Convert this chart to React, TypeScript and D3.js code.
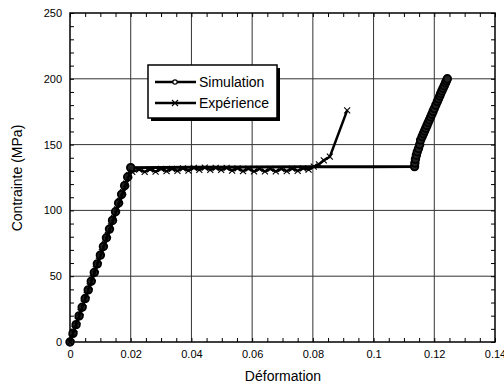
import React, { useEffect, useRef } from 'react';
import * as d3 from 'd3';

// Simulation : partie élastique, plateau, écrouissage
const simElasticStrain = [0, 0.001, 0.002, 0.003, 0.004, 0.005, 0.006, 0.007, 0.008, 0.009, 0.01, 0.011, 0.012, 0.013, 0.014, 0.015, 0.016, 0.017, 0.018, 0.019, 0.02];
const simElasticStress = [0, 6.6, 13.2, 19.8, 26.4, 33, 39.6, 46.2, 52.8, 59.4, 66, 72.6, 79.2, 85.8, 92.4, 99, 105.6, 112.2, 118.8, 125.4, 132.5];
const simPlateauStrain = [0.04, 0.06, 0.08, 0.1];
const simPlateauStress = [132.7, 132.9, 133.1, 133.2];
const simHardeningStrain = [0.1135, 0.1136, 0.1138, 0.1141, 0.1144, 0.1148, 0.1152, 0.1155, 0.116, 0.1164, 0.1168, 0.1172, 0.1176, 0.118, 0.1184, 0.1188, 0.1192, 0.1196, 0.12, 0.1205, 0.121, 0.1214, 0.1218, 0.1221, 0.1225, 0.1229, 0.1233, 0.1237, 0.124, 0.1243];
const simHardeningStress = [133.3, 136, 139, 142, 144.6, 147, 150, 153.5, 156.1, 158.3, 160.4, 162.5, 164.6, 166.8, 168.9, 171, 173.1, 175.2, 177.4, 180, 182.7, 184.8, 186.9, 188.8, 190.8, 192.8, 194.8, 196.9, 198.5, 200];

// Expérience
const expStrain = [0, 0.0005, 0.0015, 0.0025, 0.0035, 0.0045, 0.0055, 0.0065, 0.0075, 0.0085, 0.0095, 0.0105, 0.0115, 0.0125, 0.0135, 0.0145, 0.0155, 0.0165, 0.0175, 0.0185, 0.0195,
  0.0205, 0.0228, 0.0246, 0.0264, 0.0282, 0.03, 0.0318, 0.0336, 0.0354, 0.0372, 0.039, 0.0408, 0.0426, 0.0444, 0.0462, 0.048, 0.0498, 0.0516, 0.0534, 0.0552, 0.057, 0.0588,
  0.0606, 0.0624, 0.0642, 0.066, 0.0678, 0.0696, 0.0714, 0.0732, 0.075, 0.0768, 0.0786, 0.0803, 0.082, 0.0836, 0.0856, 0.0913];
const expStress = [0, 3.3, 9.8, 16.3, 22.8, 29.3, 35.8, 42.3, 48.8, 55.3, 61.8, 68.3, 74.8, 81.3, 87.8, 94.3, 100.8, 107.3, 113.8, 120.3, 126.8,
  129.3, 131, 129.3, 131.2, 129.5, 131.5, 129.8, 131.5, 130, 132, 130.3, 132.3, 130.8, 132.5, 130.8, 132.3, 130.8, 132.3, 130.3, 132, 129.8, 131.8,
  129.6, 131.6, 129.6, 131.6, 129.6, 131.5, 129.8, 131.7, 130, 132, 131, 133.2, 135, 138, 140.8, 176];

const seriesNames = ['Simulation', 'Expérience'];
const xTicks = [0, 0.02, 0.04, 0.06, 0.08, 0.1, 0.12, 0.14];
const yTicks = [0, 50, 100, 150, 200, 250];
const xLabel = 'Déformation';
const yLabel = 'Contrainte (MPa)';

const App = () => {
  const ref = useRef<SVGSVGElement>(null);
  const width = 504;
  const height = 387;

  useEffect(() => {
    const svg = d3.select(ref.current);
    svg.selectAll('*').remove();
    const font = 'Liberation Sans, Arial, sans-serif';

    const x = d3.scaleLinear().domain([0, 0.14]).range([70, 495]);
    const y = d3.scaleLinear().domain([0, 250]).range([342, 13]);

    const xMinor = d3.range(0, 0.1401, 0.005);
    const yMinor = d3.range(0, 250.1, 10);

    // grille
    const grid = svg.append('g').attr('stroke', '#333').attr('stroke-width', 1);
    xTicks.slice(1, -1).forEach(t => {
      grid.append('line').attr('x1', x(t)).attr('x2', x(t)).attr('y1', y(250)).attr('y2', y(0));
    });
    yTicks.slice(1, -1).forEach(t => {
      grid.append('line').attr('x1', x(0)).attr('x2', x(0.14)).attr('y1', y(t)).attr('y2', y(t));
    });

    // petites graduations vers l'intérieur
    const minor = (axis: any, tr: string) => {
      const g = svg.append('g').attr('transform', tr).call(axis);
      g.select('.domain').remove();
      g.selectAll('text').remove();
      g.selectAll('line').attr('stroke', '#000');
    };
    minor(d3.axisBottom(x).tickValues(xMinor).tickSize(-4), `translate(0,${y(0)})`);
    minor(d3.axisTop(x).tickValues(xMinor).tickSize(-4), `translate(0,${y(250)})`);
    minor(d3.axisLeft(y).tickValues(yMinor).tickSize(-4), `translate(${x(0)},0)`);
    minor(d3.axisRight(y).tickValues(yMinor).tickSize(-4), `translate(${x(0.14)},0)`);

    // libellés des axes
    const xa = svg.append('g').attr('transform', `translate(0,${y(0)})`)
      .call(d3.axisBottom(x).tickValues(xTicks).tickSize(0).tickPadding(8).tickFormat(d => String(+(+d).toFixed(2))));
    xa.select('.domain').remove();
    xa.selectAll('text').attr('font-family', font).attr('font-size', 11).attr('fill', '#000');

    const ya = svg.append('g').attr('transform', `translate(${x(0)},0)`)
      .call(d3.axisLeft(y).tickValues(yTicks).tickSize(0).tickPadding(8));
    ya.select('.domain').remove();
    ya.selectAll('text').attr('font-family', font).attr('font-size', 11).attr('fill', '#000');

    // cadre
    svg.append('rect')
      .attr('x', x(0)).attr('y', y(250))
      .attr('width', x(0.14) - x(0)).attr('height', y(0) - y(250))
      .attr('fill', 'none').attr('stroke', '#000').attr('stroke-width', 1.5);

    const line = d3.line<[number, number]>().x(d => x(d[0])).y(d => y(d[1]));

    const simPts: [number, number][] = [
      ...simElasticStrain.map((v, i) => [v, simElasticStress[i]] as [number, number]),
      ...simPlateauStrain.map((v, i) => [v, simPlateauStress[i]] as [number, number]),
      ...simHardeningStrain.map((v, i) => [v, simHardeningStress[i]] as [number, number]),
    ];
    const simMarks: [number, number][] = [
      ...simElasticStrain.map((v, i) => [v, simElasticStress[i]] as [number, number]),
      ...simHardeningStrain.map((v, i) => [v, simHardeningStress[i]] as [number, number]),
    ];
    const expPts: [number, number][] = expStrain.map((v, i) => [v, expStress[i]]);

    svg.append('path').attr('d', line(simPts)).attr('fill', 'none').attr('stroke', '#000').attr('stroke-width', 3);
    svg.append('g').selectAll('circle').data(simMarks).enter().append('circle')
      .attr('cx', d => x(d[0])).attr('cy', d => y(d[1])).attr('r', 3.8)
      .attr('fill', '#222').attr('stroke', '#000').attr('stroke-width', 1.8);

    svg.append('path').attr('d', line(expPts)).attr('fill', 'none').attr('stroke', '#000').attr('stroke-width', 2.5);
    const cross = (g: any, cx: number, cy: number, s: number) => {
      g.append('path')
        .attr('d', `M${cx - s},${cy - s}L${cx + s},${cy + s}M${cx - s},${cy + s}L${cx + s},${cy - s}`)
        .attr('stroke', '#000').attr('stroke-width', 1.1).attr('fill', 'none');
    };
    const crosses = svg.append('g');
    expPts.forEach(d => cross(crosses, x(d[0]), y(d[1]), 3));

    // légende
    const lg = svg.append('g');
    lg.append('rect').attr('x', 151).attr('y', 68).attr('width', 129).attr('height', 53).attr('fill', '#000');
    lg.append('rect').attr('x', 148).attr('y', 65).attr('width', 129).attr('height', 53)
      .attr('fill', '#fff').attr('stroke', '#000').attr('stroke-width', 1.5);
    seriesNames.forEach((name, i) => {
      const ly = 82 + i * 21;
      lg.append('line').attr('x1', 155).attr('x2', 196).attr('y1', ly).attr('y2', ly)
        .attr('stroke', '#000').attr('stroke-width', 2.5);
      if (i === 0) {
        lg.append('circle').attr('cx', 175).attr('cy', ly).attr('r', 2.2)
          .attr('fill', '#fff').attr('stroke', '#000').attr('stroke-width', 1.2);
      } else {
        cross(lg, 175, ly, 3);
      }
      lg.append('text').attr('x', 199).attr('y', ly).attr('dy', '0.36em')
        .attr('font-family', font).attr('font-size', 14).text(name);
    });

    svg.append('text').attr('x', 283).attr('y', 381).attr('text-anchor', 'middle')
      .attr('font-family', font).attr('font-size', 14).text(xLabel);
    svg.append('text').attr('transform', 'translate(22,178) rotate(-90)').attr('text-anchor', 'middle')
      .attr('font-family', font).attr('font-size', 14).text(yLabel);
  }, []);

  return (
    <div style={{ position: 'absolute', left: 0, top: 0 }}>
      <svg ref={ref} width={width} height={height} style={{ display: 'block', background: '#fff' }} />
    </div>
  );
};

export default App;
